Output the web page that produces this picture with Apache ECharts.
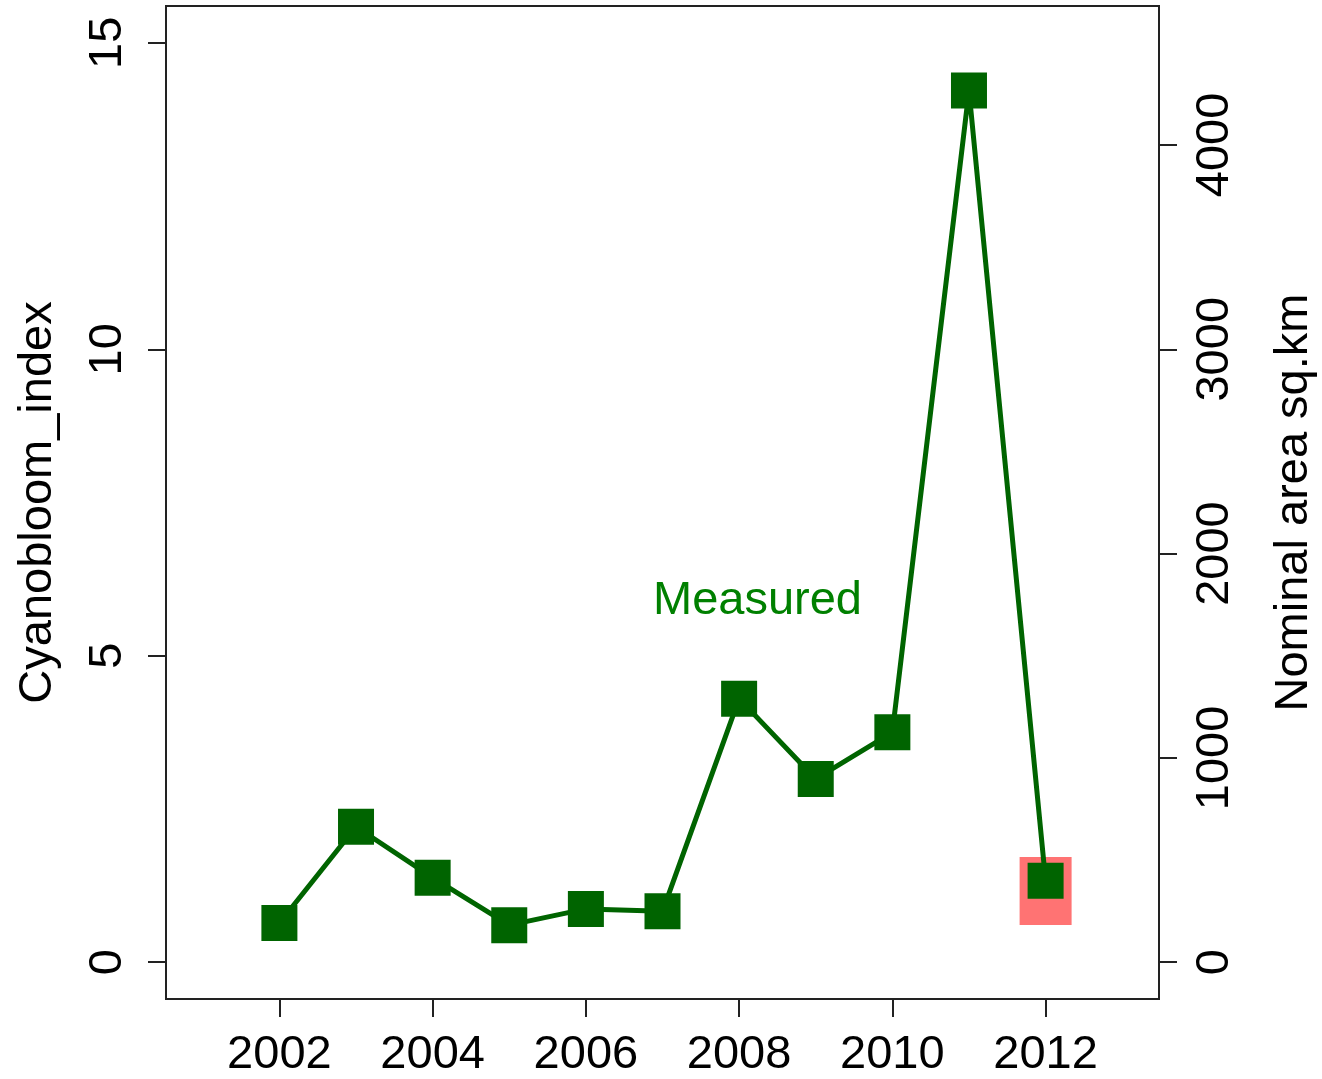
<!DOCTYPE html>
<html>
<head>
<meta charset="utf-8">
<script src="https://cdn.jsdelivr.net/npm/echarts@6/dist/echarts.min.js"></script>
<style>
html,body{margin:0;padding:0;background:#fff;overflow:hidden;width:1322px;height:1079px;}
#chart{width:1322px;height:1079px;overflow:hidden;}
</style>
</head>
<body>
<div id="chart"></div>
<script>
const years = [2002, 2003, 2004, 2005, 2006, 2007, 2008, 2009, 2010, 2011, 2012];
const cyanobloomIndex = [0.64, 2.21, 1.38, 0.605, 0.87, 0.83, 4.30, 2.99, 3.75, 14.22, 1.33];
const nominalYears = [2012];
const nominalArea = [349];
const xTicks = [2002, 2004, 2006, 2008, 2010, 2012];
const leftTicks = [0, 5, 10, 15];
const rightTicks = [0, 1000, 2000, 3000, 4000];
const annotation = { text: 'Measured', x: 2008.24, y: 5.9 };

const FONT = 'Liberation Sans, Arial, sans-serif';
const FS = 47;
const plain = v => String(v);
const chart = echarts.init(document.getElementById('chart'), null, { renderer: 'canvas' });

const tickStyle = { color: '#222', width: 2 };

const option = {
  backgroundColor: '#ffffff',
  animation: false,
  grid: {
    left: 166, right: 163, top: 6, bottom: 80,
    containLabel: false, outerBoundsMode: 'none',
    show: true, borderColor: '#222', borderWidth: 2, backgroundColor: 'transparent'
  },
  xAxis: {
    type: 'value', min: 2000.52, max: 2013.48,
    axisLine: { show: false, onZero: false },
    splitLine: { show: false },
    axisTick: { show: true, inside: false, length: 18, lineStyle: tickStyle, customValues: xTicks },
    axisLabel: { customValues: xTicks, formatter: plain, fontSize: FS, lineHeight: 40, fontFamily: FONT, color: '#000', margin: 36 }
  },
  yAxis: [
    {
      type: 'value', min: -0.6, max: 15.6, position: 'left',
      name: 'Cyanobloom_index', nameLocation: 'middle', nameGap: 104, nameRotate: 90,
      nameTextStyle: { fontSize: FS, fontFamily: FONT, color: '#000' },
      axisLine: { show: false, onZero: false },
      splitLine: { show: false },
      axisTick: { show: true, inside: false, length: 18, lineStyle: tickStyle, customValues: leftTicks },
      axisLabel: { customValues: leftTicks, formatter: plain, rotate: 90, fontSize: FS, fontFamily: FONT, color: '#000', margin: 34 }
    },
    {
      type: 'value', min: -180, max: 4680, position: 'right',
      name: 'Nominal area sq.km', nameLocation: 'middle', nameGap: 112, nameRotate: 90,
      nameTextStyle: { fontSize: FS, fontFamily: FONT, color: '#000' },
      axisLine: { show: false, onZero: false },
      splitLine: { show: false },
      axisTick: { show: true, inside: false, length: 18, lineStyle: tickStyle, customValues: rightTicks },
      axisLabel: { customValues: rightTicks, formatter: plain, rotate: 90, fontSize: FS, fontFamily: FONT, color: '#000', margin: 33 }
    }
  ],
  series: [
    {
      type: 'scatter', yAxisIndex: 1,
      data: nominalYears.map((y, i) => [y, nominalArea[i]]),
      symbol: 'rect', symbolSize: [52, 68],
      itemStyle: { color: '#ff7373', opacity: 1 },
      z: 2
    },
    {
      type: 'line', yAxisIndex: 0,
      data: years.map((y, i) => [y, cyanobloomIndex[i]]),
      symbol: 'rect', symbolSize: 36, showAllSymbol: true,
      lineStyle: { color: '#006400', width: 5 },
      itemStyle: { color: '#006400', borderWidth: 0 },
      z: 3,
      markPoint: {
        symbol: 'circle', symbolSize: 1,
        itemStyle: { color: 'rgba(0,0,0,0)' },
        label: { show: true, position: 'inside', formatter: annotation.text, fontSize: FS, fontFamily: FONT, color: '#008000' },
        data: [{ coord: [annotation.x, annotation.y] }]
      }
    }
  ]
};
chart.setOption(option);
</script>
</body>
</html>
